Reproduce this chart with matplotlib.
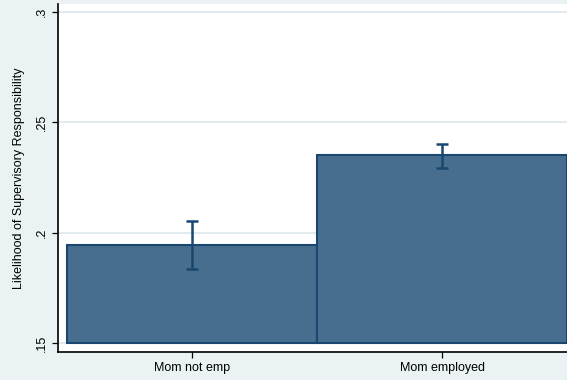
from matplotlib import pyplot as plt
import numpy as np

plt.rcParams['font.family'] = ['Liberation Sans', 'DejaVu Sans']

# data
groups = ['Mom not emp', 'Mom employed']
means = [0.1945, 0.2350]
ci_low = [0.1837, 0.2292]
ci_high = [0.2052, 0.2402]

bg = '#EAF2F3'
fill = '#476E8E'
dark = '#1A476F'

fig = plt.figure(figsize=(5.67, 3.8), dpi=100)
fig.patch.set_facecolor(bg)
# axes runs a little past the right edge, like the cropped original
ax = fig.add_axes([58/567, 28/380, 518/567, 348/380])
ax.set_facecolor('white')

x = np.arange(1, len(groups) + 1)
base = 0.15
ax.bar(x, np.array(means) - base, bottom=base, width=1.0, color=fill,
       edgecolor=dark, linewidth=1.5, zorder=2)
yerr = [np.array(means) - np.array(ci_low), np.array(ci_high) - np.array(means)]
ax.errorbar(x, means, yerr=yerr, fmt='none', ecolor=dark, elinewidth=1.8,
            capsize=4, capthick=1.8, zorder=3)

ax.set_xlim(0.464, 2.536)
ax.set_ylim(0.1459, 0.3036)
ax.set_yticks([0.15, 0.2, 0.25, 0.3])
ax.set_yticklabels(['.15', '.2', '.25', '.3'], rotation=90, va='center', fontsize=9)
ax.set_xticks(x)
ax.set_xticklabels(groups, fontsize=9)
ax.tick_params(axis='both', length=4, width=0.9, colors='black', pad=3)
ax.yaxis.grid(True, color='#E2ECEE', linewidth=1.5, zorder=0)
ax.set_axisbelow(True)
for s in ['top', 'right']:
    ax.spines[s].set_visible(False)
ax.spines['left'].set_linewidth(1.2)
ax.spines['bottom'].set_linewidth(1.2)
ax.set_ylabel('Likelihood of Supervisory Responsibility', fontsize=9, labelpad=8)

plt.savefig('out.png', dpi=100, facecolor=bg)
